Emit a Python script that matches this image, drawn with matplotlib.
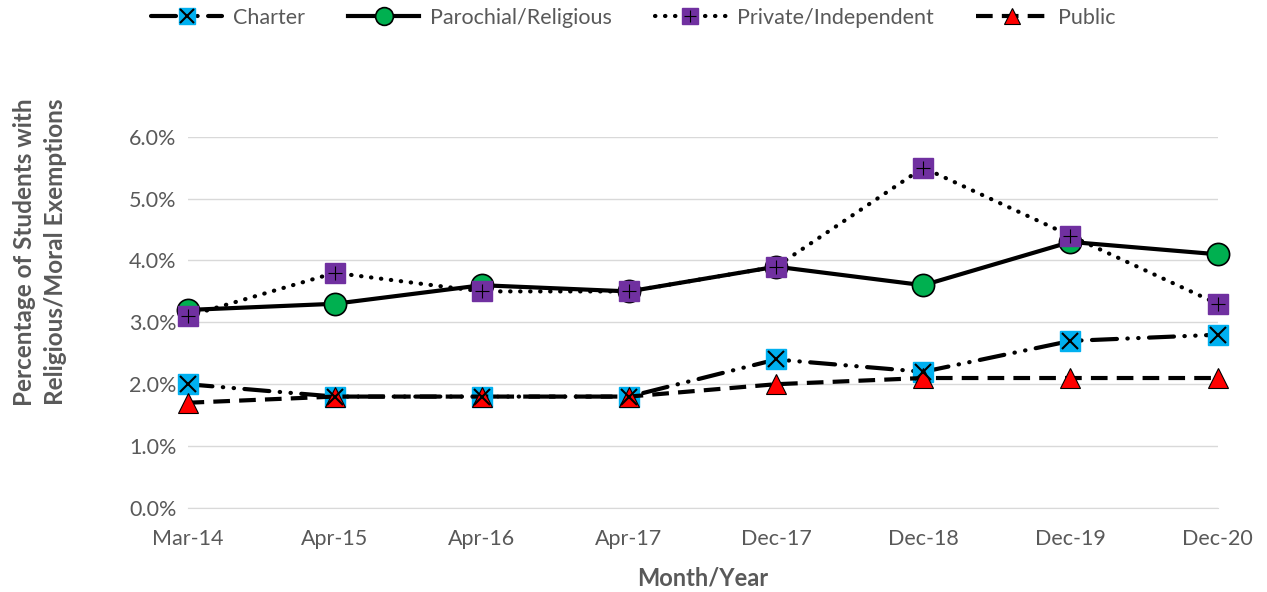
import matplotlib.pyplot as plt
from matplotlib.legend_handler import HandlerTuple
from matplotlib.ticker import PercentFormatter

months = ['Mar-14', 'Apr-15', 'Apr-16', 'Apr-17', 'Dec-17', 'Dec-18', 'Dec-19', 'Dec-20']
charter = [2.0, 1.8, 1.8, 1.8, 2.4, 2.2, 2.7, 2.8]
parochial = [3.2, 3.3, 3.6, 3.5, 3.9, 3.6, 4.3, 4.1]
private = [3.1, 3.8, 3.5, 3.5, 3.9, 5.5, 4.4, 3.3]
public = [1.7, 1.8, 1.8, 1.8, 2.0, 2.1, 2.1, 2.1]

plt.rcParams['font.family'] = ['Lato', 'DejaVu Sans']
gray = '#595959'

fig = plt.figure(figsize=(12.67, 5.92), dpi=100)
ax = fig.add_axes([0.148, 0.142, 0.813, 0.627])
x = range(len(months))

# Charter: long dash - dot - dot
l1, = ax.plot(x, charter, color='black', lw=3, dashes=(6, 2.5, 0.1, 2.5, 0.1, 2.5),
              dash_capstyle='round', marker='s', ms=14, mfc='#00B0F0', mec='#00B0F0',
              clip_on=False, zorder=3)
l1x, = ax.plot(x, charter, ls='none', marker='x', ms=12, mew=1.5, color='black',
               clip_on=False, zorder=4)
l2, = ax.plot(x, parochial, color='black', lw=3, marker='o', ms=16, mfc='#00B050',
              mec='black', mew=1.2, clip_on=False, zorder=3)
l3, = ax.plot(x, private, color='black', lw=3, dashes=(0.1, 2.3), dash_capstyle='round',
              marker='s', ms=14, mfc='#7030A0', mec='#7030A0', clip_on=False, zorder=3)
l3x, = ax.plot(x, private, ls='none', marker='+', ms=10, mew=0.8, color='black',
               clip_on=False, zorder=4)
l4, = ax.plot(x, public, color='black', lw=3, dashes=(4, 2.2),
              marker='^', ms=14, mfc='red', mec='black', mew=0.8, clip_on=False, zorder=3)

ax.set_xlim(0, len(months) - 1)
ax.set_ylim(0, 6)
ax.set_yticks([0, 1, 2, 3, 4, 5, 6])
ax.yaxis.set_major_formatter(PercentFormatter(decimals=1))
ax.set_xticks(list(x))
ax.set_xticklabels(months)
ax.grid(axis='y', color='#D9D9D9', lw=1)
ax.set_axisbelow(True)
for s in ['top', 'right', 'left']:
    ax.spines[s].set_visible(False)
ax.spines['bottom'].set_color('#D9D9D9')
ax.tick_params(axis='both', length=0, labelsize=15.5, colors=gray)
ax.tick_params(axis='x', pad=15)
ax.tick_params(axis='y', pad=8)

ax.set_xlabel('Month/Year', fontsize=17, fontweight='bold', color=gray, labelpad=13)
ax.set_ylabel('Percentage of Students with\nReligious/Moral Exemptions', fontsize=17.5,
              fontweight='bold', color=gray, linespacing=1.4, va='center')
ax.yaxis.set_label_coords(-0.143, 0.69)

fig.legend([(l1, l1x), l2, (l3, l3x), l4],
           ['Charter', 'Parochial/Religious', 'Private/Independent', 'Public'],
           handler_map={tuple: HandlerTuple(ndivide=1)},
           loc='upper center', bbox_to_anchor=(0.5, 1.02), ncol=4, frameon=False,
           fontsize=15.5, labelcolor=gray, handlelength=3.3, handletextpad=0.5,
           columnspacing=2.0, markerscale=0.8)

fig.savefig('out.png', dpi=100)
plt.close()
